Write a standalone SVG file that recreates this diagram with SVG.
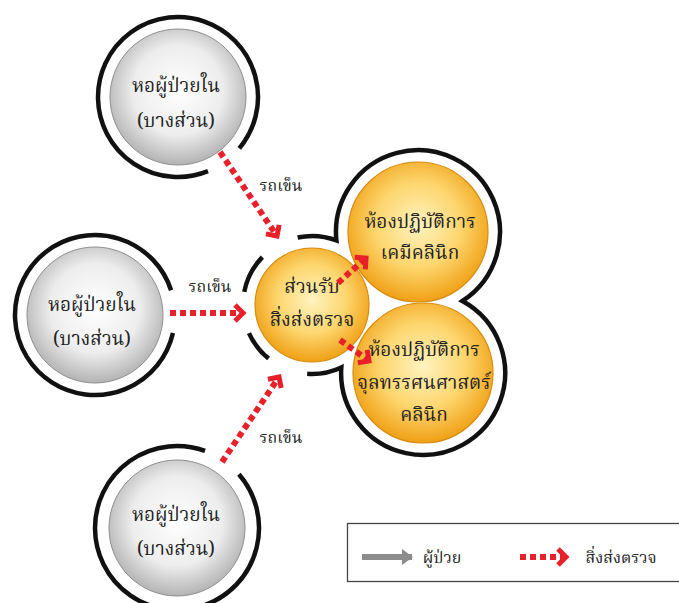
<svg xmlns="http://www.w3.org/2000/svg" width="679" height="603" viewBox="0 0 679 603">
  <defs>
    <radialGradient id="gGray" cx="50%" cy="45%" r="55%">
      <stop offset="0" stop-color="#ffffff"/>
      <stop offset="0.6" stop-color="#ededed"/>
      <stop offset="1" stop-color="#b3b3b3"/>
    </radialGradient>
    <radialGradient id="gOrange" cx="50%" cy="45%" r="55%">
      <stop offset="0" stop-color="#fff3c0"/>
      <stop offset="0.55" stop-color="#fdd66e"/>
      <stop offset="1" stop-color="#f0a015"/>
    </radialGradient>
    <marker id="chev" markerUnits="userSpaceOnUse" markerWidth="18" markerHeight="20" refX="10" refY="9" orient="auto" overflow="visible">
      <path d="M2,1 L10,9 L2,17" fill="none" stroke="#e8202a" stroke-width="5"/>
    </marker>
    <marker id="grayHead" markerUnits="userSpaceOnUse" markerWidth="16" markerHeight="16" refX="10" refY="8" orient="auto" overflow="visible">
      <path d="M0,0 L11,8 L0,16 Z" fill="#8c8c8c"/>
    </marker>
  </defs>
  <style>
    .ward { fill: url(#gGray); stroke: #8f8f8f; stroke-width: 1; }
    .lab { fill: url(#gOrange); stroke: #d88c10; stroke-width: 1.2; }
    .ring { fill: none; stroke: #111; stroke-width: 4.5; stroke-linecap: butt; }
    .flow { fill: none; stroke: #e8202a; stroke-width: 6; stroke-dasharray: 6 4; }
    .t { font-family: "Noto Serif Thai", "Noto Sans Thai", "DejaVu Serif", "DejaVu Sans", serif; fill: #222; text-anchor: middle; }
    .big { font-size: 19px; }
    .small { font-size: 16px; }
  </style>
  <rect width="679" height="603" fill="#ffffff"/>

  <!-- ward, top -->
  <g id="ward-top">
    <circle class="ward" cx="178" cy="97" r="68"/>
    <path class="ring" d="M207.97,171.17 A80,80 0 1 1 239.28,148.42"/>
    <text class="t big" x="176" y="92">หอผู้ป่วยใน</text>
    <text class="t big" x="176" y="127">(บางส่วน)</text>
  </g>

  <!-- ward, left -->
  <g id="ward-left">
    <circle class="ward" cx="95" cy="315" r="68"/>
    <path class="ring" d="M172.95,333 A80,80 0 1 1 171.08,290.28"/>
    <text class="t big" x="92" y="311">หอผู้ป่วยใน</text>
    <text class="t big" x="92" y="345">(บางส่วน)</text>
  </g>

  <!-- ward, bottom -->
  <g id="ward-bottom">
    <circle class="ward" cx="177" cy="528" r="68"/>
    <path class="ring" d="M238.89,474.2 A82,82 0 1 1 205.05,450.95"/>
    <text class="t big" x="176" y="521">หอผู้ป่วยใน</text>
    <text class="t big" x="176" y="555">(บางส่วน)</text>
  </g>

  <!-- laboratory cluster outline -->
  <g id="lab-outline">
    <path class="ring" d="M297.65,237.51 A69,69 0 0 1 336.4,240.4 A82,82 0 1 1 462.4,301 A82,82 0 1 1 341.3,367.5 A69,69 0 0 1 307.19,373.83"/>
    <path class="ring" d="M268.58,358.62 A69,69 0 0 1 248.97,333.06"/>
    <path class="ring" d="M244.27,291.83 A69,69 0 0 1 262.37,257.07"/>
  </g>

  <g id="lab-chemistry">
    <circle class="lab" cx="418" cy="232" r="70"/>
    <text class="t big" x="420" y="228">ห้องปฏิบัติการ</text>
    <text class="t big" x="420" y="259">เคมีคลินิก</text>
  </g>

  <g id="lab-microscopy">
    <circle class="lab" cx="423" cy="373" r="70"/>
    <text class="t big" x="424" y="356">ห้องปฏิบัติการ</text>
    <text class="t big" x="424" y="389">จุลทรรศนศาสตร์</text>
    <text class="t big" x="424" y="421">คลินิก</text>
  </g>

  <g id="specimen-reception">
    <circle class="lab" cx="312" cy="305" r="57"/>
    <text class="t big" x="312" y="293">ส่วนรับ</text>
    <text class="t big" x="312" y="326">สิ่งส่งตรวจ</text>
  </g>

  <!-- specimen transport -->
  <g id="connectors">
    <line class="flow" x1="220" y1="152" x2="277" y2="236" marker-end="url(#chev)"/>
    <line class="flow" x1="170" y1="313" x2="243" y2="313" marker-end="url(#chev)"/>
    <line class="flow" x1="222" y1="462" x2="279" y2="377" marker-end="url(#chev)"/>
    <line class="flow" x1="338" y1="283" x2="366" y2="258" marker-end="url(#chev)"/>
    <line class="flow" x1="340" y1="340" x2="369" y2="361" marker-end="url(#chev)"/>
    <text class="t small" x="281" y="191">รถเข็น</text>
    <text class="t small" x="210" y="292">รถเข็น</text>
    <text class="t small" x="281" y="443">รถเข็น</text>
  </g>

  <!-- legend -->
  <g id="legend">
    <rect x="347.5" y="523.5" width="340" height="58" fill="#fff" stroke="#444" stroke-width="1.3"/>
    <line x1="362" y1="557" x2="412" y2="557" stroke="#8c8c8c" stroke-width="6" marker-end="url(#grayHead)"/>
    <text class="t small" x="442" y="563">ผู้ป่วย</text>
    <line class="flow" x1="520" y1="557" x2="566" y2="557" stroke-width="5" marker-end="url(#chev)"/>
    <text class="t small" x="621" y="563">สิ่งส่งตรวจ</text>
  </g>
</svg>
